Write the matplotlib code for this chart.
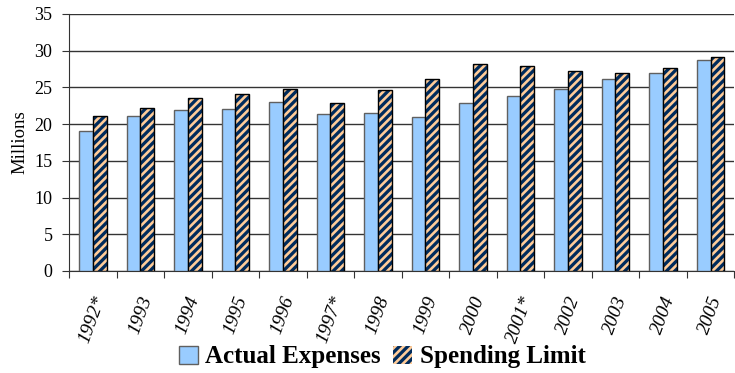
import matplotlib
matplotlib.use("Agg")
import matplotlib.pyplot as plt
import matplotlib.transforms as mtransforms
import numpy as np

years = ["1992*", "1993", "1994", "1995", "1996", "1997*", "1998",
         "1999", "2000", "2001*", "2002", "2003", "2004", "2005"]
actual_expenses = [19.1, 21.1, 21.9, 22.1, 23.0, 21.4, 21.5,
                   21.0, 22.85, 23.85, 24.85, 26.2, 26.9, 28.8]
spending_limit = [21.1, 22.25, 23.5, 24.1, 24.75, 22.9, 24.6,
                  26.1, 28.2, 27.9, 27.3, 26.9, 27.7, 29.1]

plt.rcParams["font.family"] = ["Liberation Serif", "DejaVu Serif"]
plt.rcParams["hatch.linewidth"] = 1.9

NAVY = "#002B5C"
PEACH = "#FFCC99"

fig = plt.figure(figsize=(7.35, 3.73), dpi=100)
ax = fig.add_axes([0.094, 0.2735, 0.905, 0.689])

x = np.arange(len(years))
w = 0.29
ax.bar(x - w / 2, actual_expenses, width=w, color="#99CCFF",
       edgecolor="#606060", linewidth=1.0, zorder=3)
# striped bars: navy fill with peach hatch, then a black outline on top
ax.bar(x + w / 2, spending_limit, width=w, color=NAVY,
       edgecolor=PEACH, linewidth=0, hatch="////", zorder=3)
ax.bar(x + w / 2, spending_limit, width=w, fill=False,
       edgecolor="#000000", linewidth=1.0, zorder=4)

ax.set_xlim(-0.5, len(years) - 0.5)
ax.set_ylim(0, 35)
ax.set_yticks(range(0, 36, 5))
ax.yaxis.grid(True, color="#333333", linewidth=1.0)
ax.set_axisbelow(True)

ax.set_xticks(np.arange(-0.5, len(years), 1.0))
ax.set_xticklabels([])
ax.set_xticks(x, minor=True)
ax.set_xticklabels(years, minor=True, rotation=70, fontstyle="italic",
                   fontsize=14, ha="center", va="top")
shift = mtransforms.ScaledTranslation(-8 / 100, 0, fig.dpi_scale_trans)
for lbl in ax.get_xticklabels(minor=True):
    lbl.set_transform(lbl.get_transform() + shift)
ax.tick_params(axis="x", which="minor", length=0, pad=16.5)
ax.tick_params(axis="x", which="major", length=5, direction="out", color="#333333")
ax.tick_params(axis="y", length=5, direction="out", labelsize=13, pad=7,
               color="#333333")

for s in ["top", "right"]:
    ax.spines[s].set_visible(False)
ax.spines["left"].set_color("#333333")
ax.spines["bottom"].set_color("#333333")

ax.set_ylabel("Millions", fontsize=13.5, labelpad=4)

handles = [
    plt.Rectangle((0, 0), 1, 1, facecolor="#99CCFF", edgecolor="#606060", linewidth=1.0),
    plt.Rectangle((0, 0), 1, 1, facecolor=NAVY, edgecolor=PEACH, linewidth=0, hatch="////"),
]
leg = fig.legend(handles, ["Actual Expenses", "Spending Limit"],
                 loc="center", bbox_to_anchor=(0.52, 0.043), ncol=2,
                 frameon=False, prop={"weight": "bold", "size": 18},
                 handlelength=0.75, handleheight=0.75, handletextpad=0.3,
                 columnspacing=0.5, borderpad=0)

fig.savefig("out.png", dpi=100)
